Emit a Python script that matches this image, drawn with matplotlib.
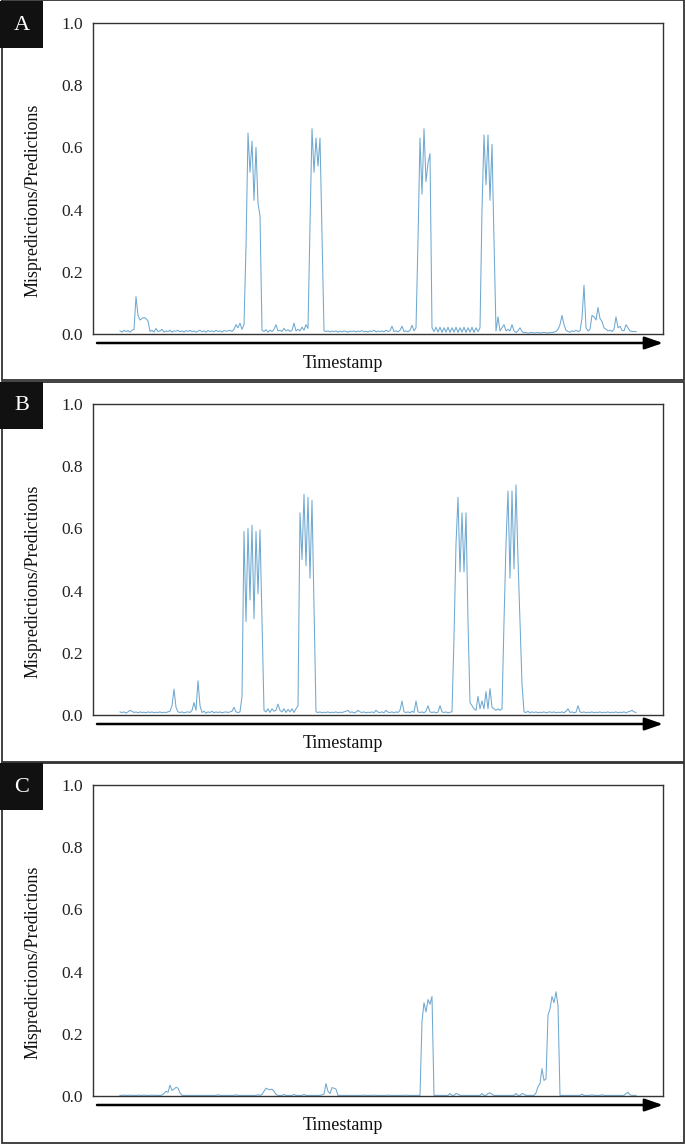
import numpy as np
import matplotlib
matplotlib.use('Agg')
import matplotlib.pyplot as plt
from matplotlib.patches import Rectangle

# ---------------- data (mispredictions / predictions per timestamp) ----------------
series_a = [
    0.010, 0.006, 0.012, 0.008, 0.011, 0.006, 0.012, 0.015, 0.120, 0.060,
    0.045, 0.050, 0.053, 0.050, 0.042, 0.008, 0.012, 0.006, 0.018, 0.008,
    0.010, 0.015, 0.006, 0.010, 0.008, 0.012, 0.006, 0.010, 0.009, 0.012,
    0.007, 0.010, 0.006, 0.011, 0.008, 0.012, 0.007, 0.010, 0.006, 0.009,
    0.012, 0.007, 0.010, 0.006, 0.011, 0.008, 0.010, 0.007, 0.012, 0.008,
    0.010, 0.006, 0.011, 0.009, 0.010, 0.012, 0.008, 0.015, 0.030, 0.020,
    0.035, 0.015, 0.030, 0.280, 0.646, 0.520, 0.620, 0.430, 0.600, 0.420,
    0.380, 0.012, 0.008, 0.014, 0.006, 0.012, 0.008, 0.015, 0.030, 0.010,
    0.012, 0.008, 0.018, 0.010, 0.014, 0.008, 0.012, 0.035, 0.010, 0.015,
    0.010, 0.022, 0.012, 0.030, 0.018, 0.350, 0.660, 0.520, 0.630, 0.540,
    0.630, 0.320, 0.010, 0.008, 0.010, 0.007, 0.009, 0.008, 0.010, 0.006,
    0.009, 0.007, 0.010, 0.008, 0.006, 0.009, 0.008, 0.010, 0.007, 0.009,
    0.008, 0.011, 0.007, 0.009, 0.006, 0.010, 0.008, 0.012, 0.007, 0.009,
    0.008, 0.010, 0.007, 0.012, 0.008, 0.010, 0.025, 0.008, 0.010, 0.007,
    0.012, 0.025, 0.008, 0.010, 0.007, 0.012, 0.028, 0.010, 0.020, 0.300,
    0.630, 0.450, 0.660, 0.490, 0.550, 0.580, 0.020, 0.008, 0.022, 0.006,
    0.022, 0.005, 0.020, 0.006, 0.022, 0.005, 0.020, 0.006, 0.022, 0.005,
    0.020, 0.006, 0.022, 0.005, 0.020, 0.006, 0.022, 0.005, 0.020, 0.008,
    0.020, 0.400, 0.640, 0.480, 0.640, 0.430, 0.610, 0.300, 0.010, 0.055,
    0.010, 0.020, 0.030, 0.010, 0.015, 0.010, 0.030, 0.010, 0.005, 0.010,
    0.020, 0.008, 0.004, 0.005, 0.003, 0.004, 0.005, 0.003, 0.004, 0.005,
    0.003, 0.004, 0.005, 0.004, 0.003, 0.005, 0.004, 0.006, 0.008, 0.015,
    0.030, 0.060, 0.030, 0.012, 0.008, 0.006, 0.010, 0.008, 0.012, 0.008,
    0.010, 0.050, 0.157, 0.020, 0.010, 0.015, 0.060, 0.055, 0.045, 0.085,
    0.050, 0.040, 0.020, 0.015, 0.010, 0.012, 0.008, 0.015, 0.055, 0.020,
    0.025, 0.012, 0.010, 0.030, 0.020, 0.010, 0.008, 0.008, 0.008,
]

series_b = [
    0.010, 0.008, 0.010, 0.006, 0.010, 0.015, 0.012, 0.008, 0.010, 0.007,
    0.010, 0.008, 0.009, 0.007, 0.010, 0.008, 0.010, 0.007, 0.009, 0.008,
    0.010, 0.007, 0.009, 0.008, 0.010, 0.012, 0.030, 0.083, 0.025, 0.010,
    0.008, 0.010, 0.007, 0.009, 0.010, 0.008, 0.015, 0.040, 0.015, 0.110,
    0.030, 0.008, 0.012, 0.006, 0.010, 0.008, 0.012, 0.007, 0.010, 0.008,
    0.010, 0.007, 0.009, 0.010, 0.008, 0.010, 0.012, 0.025, 0.010, 0.008,
    0.010, 0.060, 0.590, 0.300, 0.600, 0.370, 0.610, 0.310, 0.590, 0.390,
    0.595, 0.300, 0.015, 0.010, 0.020, 0.008, 0.020, 0.012, 0.015, 0.035,
    0.015, 0.010, 0.020, 0.008, 0.018, 0.010, 0.020, 0.008, 0.020, 0.030,
    0.650, 0.500, 0.710, 0.480, 0.700, 0.440, 0.690, 0.350, 0.010, 0.008,
    0.010, 0.007, 0.009, 0.008, 0.010, 0.007, 0.009, 0.008, 0.010, 0.007,
    0.009, 0.008, 0.010, 0.012, 0.015, 0.008, 0.010, 0.007, 0.009, 0.015,
    0.010, 0.008, 0.010, 0.007, 0.009, 0.008, 0.010, 0.007, 0.015, 0.009,
    0.008, 0.010, 0.007, 0.015, 0.009, 0.008, 0.010, 0.007, 0.010, 0.008,
    0.015, 0.045, 0.010, 0.008, 0.010, 0.007, 0.012, 0.008, 0.045, 0.010,
    0.008, 0.010, 0.007, 0.012, 0.030, 0.010, 0.008, 0.010, 0.007, 0.009,
    0.030, 0.010, 0.008, 0.010, 0.007, 0.009, 0.010, 0.250, 0.550, 0.700,
    0.460, 0.650, 0.460, 0.650, 0.300, 0.040, 0.030, 0.020, 0.015, 0.060,
    0.020, 0.045, 0.020, 0.075, 0.020, 0.085, 0.025, 0.020, 0.015, 0.020,
    0.015, 0.020, 0.300, 0.550, 0.720, 0.440, 0.720, 0.470, 0.740, 0.500,
    0.300, 0.100, 0.010, 0.008, 0.012, 0.007, 0.010, 0.008, 0.010, 0.007,
    0.009, 0.008, 0.010, 0.007, 0.009, 0.010, 0.008, 0.010, 0.007, 0.009,
    0.008, 0.010, 0.007, 0.012, 0.020, 0.008, 0.010, 0.007, 0.009, 0.030,
    0.010, 0.008, 0.010, 0.007, 0.009, 0.008, 0.010, 0.007, 0.009, 0.008,
    0.010, 0.007, 0.009, 0.008, 0.010, 0.007, 0.009, 0.008, 0.010, 0.007,
    0.009, 0.008, 0.010, 0.007, 0.010, 0.012, 0.015, 0.010, 0.008,
]

series_c = [
    0.002, 0.002, 0.003, 0.002, 0.002, 0.003, 0.002, 0.002, 0.002, 0.003,
    0.002, 0.002, 0.003, 0.002, 0.002, 0.002, 0.003, 0.002, 0.002, 0.002,
    0.002, 0.003, 0.008, 0.015, 0.012, 0.035, 0.018, 0.022, 0.028, 0.025,
    0.010, 0.002, 0.002, 0.002, 0.002, 0.002, 0.002, 0.002, 0.002, 0.002,
    0.002, 0.002, 0.002, 0.002, 0.002, 0.002, 0.002, 0.002, 0.002, 0.004,
    0.002, 0.002, 0.002, 0.002, 0.002, 0.002, 0.002, 0.002, 0.004, 0.002,
    0.002, 0.002, 0.002, 0.002, 0.002, 0.002, 0.002, 0.002, 0.002, 0.004,
    0.002, 0.005, 0.015, 0.025, 0.022, 0.020, 0.022, 0.015, 0.005, 0.002,
    0.002, 0.002, 0.005, 0.002, 0.002, 0.002, 0.002, 0.005, 0.002, 0.002,
    0.002, 0.002, 0.005, 0.002, 0.002, 0.002, 0.002, 0.002, 0.002, 0.002,
    0.002, 0.004, 0.006, 0.040, 0.015, 0.008, 0.027, 0.025, 0.022, 0.002,
    0.002, 0.002, 0.002, 0.002, 0.002, 0.002, 0.002, 0.002, 0.002, 0.002,
    0.002, 0.002, 0.003, 0.002, 0.002, 0.002, 0.002, 0.003, 0.002, 0.002,
    0.002, 0.002, 0.002, 0.002, 0.003, 0.002, 0.002, 0.002, 0.002, 0.002,
    0.002, 0.002, 0.002, 0.003, 0.002, 0.002, 0.002, 0.002, 0.002, 0.002,
    0.002, 0.240, 0.300, 0.270, 0.310, 0.295, 0.320, 0.002, 0.002, 0.002,
    0.002, 0.002, 0.002, 0.002, 0.002, 0.008, 0.002, 0.002, 0.008, 0.006,
    0.002, 0.002, 0.002, 0.002, 0.002, 0.002, 0.002, 0.002, 0.002, 0.002,
    0.002, 0.008, 0.002, 0.002, 0.008, 0.010, 0.006, 0.002, 0.002, 0.002,
    0.002, 0.002, 0.002, 0.002, 0.002, 0.002, 0.002, 0.002, 0.008, 0.002,
    0.002, 0.008, 0.006, 0.002, 0.002, 0.002, 0.002, 0.002, 0.010, 0.030,
    0.040, 0.088, 0.050, 0.055, 0.260, 0.280, 0.320, 0.300, 0.335, 0.290,
    0.002, 0.002, 0.002, 0.002, 0.002, 0.002, 0.002, 0.002, 0.002, 0.002,
    0.002, 0.006, 0.002, 0.002, 0.002, 0.002, 0.004, 0.002, 0.002, 0.002,
    0.002, 0.004, 0.002, 0.002, 0.002, 0.002, 0.002, 0.002, 0.002, 0.002,
    0.002, 0.002, 0.002, 0.008, 0.012, 0.004, 0.002, 0.002, 0.002,
]

panel_labels = ['A', 'B', 'C']
y_ticks = [0.0, 0.2, 0.4, 0.6, 0.8, 1.0]
y_tick_labels = ['0.0', '0.2', '0.4', '0.6', '0.8', '1.0']
y_label = 'Mispredictions/Predictions'
x_label = 'Timestamp'

# ---------------- layout ----------------
plt.rcParams['font.family'] = ['Liberation Serif', 'DejaVu Serif']
W, H = 685, 1145
fig = plt.figure(figsize=(W / 100, H / 100), dpi=100)


def fy(p):
    return 1 - p / H


line_color = '#5f9fcc'
for k, (lab, vals) in enumerate(zip(panel_labels, [series_a, series_b, series_c])):
    off = 381 * k
    top, bot = 23 + off, 334 + off
    ax = fig.add_axes([93 / W, fy(bot), (663 - 93) / W, (bot - top) / H])
    t = np.arange(len(vals))
    ax.plot(t, vals, color=line_color, lw=0.75, alpha=0.9)
    ax.set_xlim(-13.5, 271.5)
    ax.set_ylim(0, 1)
    ax.set_xticks([])
    ax.set_yticks(y_ticks)
    ax.set_yticklabels(y_tick_labels)
    ax.tick_params(axis='y', length=0, pad=7, labelsize=12.5, colors='#222222')
    for s in ax.spines.values():
        s.set_linewidth(1.0)
        s.set_color('#333333')

    # panel border
    fig.add_artist(Rectangle((1.5 / W, fy(381 * (k + 1) - 0.5)), 682 / W, 380 / H,
                             transform=fig.transFigure, fill=False,
                             edgecolor='#333333', lw=1.3))
    # black label box
    fig.add_artist(Rectangle((0, fy(off + 48)), 43 / W, 47 / H,
                             transform=fig.transFigure, facecolor='#111111',
                             edgecolor='none'))
    fig.text(21.5 / W, fy(off + 25), lab, color='white', fontsize=16,
             ha='center', va='center')

    # y label
    fig.text(33 / W, fy(off + 200), y_label, rotation=90, fontsize=13,
             ha='center', va='center', color='#111111')

    # timestamp arrow
    ya = H - (343 + off)
    fig.add_artist(matplotlib.patches.FancyArrowPatch(
        (97, ya), (663, ya), transform=None,
        arrowstyle='-|>,head_length=1.1,head_width=0.38', mutation_scale=10,
        lw=1.8, color='black', shrinkA=0, shrinkB=0))
    fig.text(343 / W, fy(off + 363), x_label, fontsize=13,
             ha='center', va='center', color='#111111')

fig.savefig('out.png', dpi=100)
